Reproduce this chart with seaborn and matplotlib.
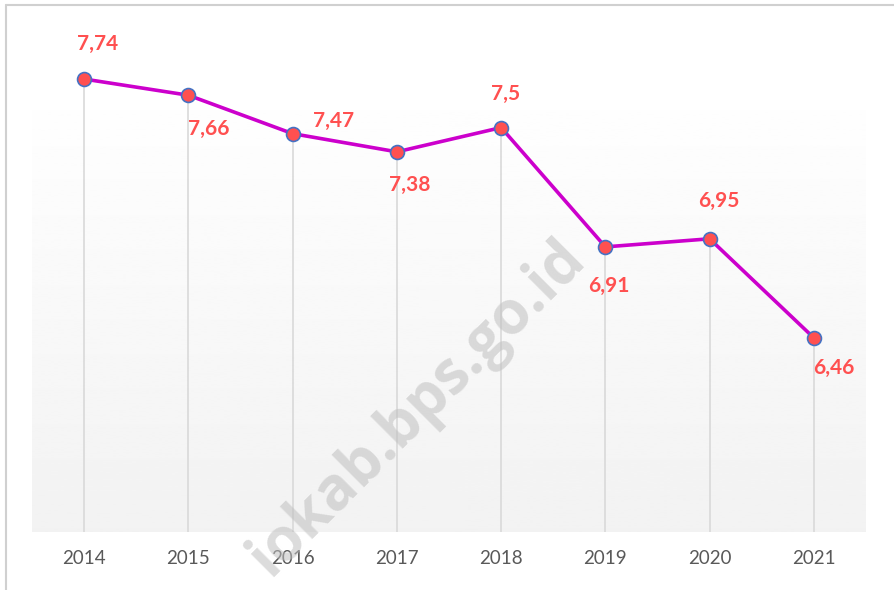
import numpy as np
import pandas as pd
import seaborn as sns
import matplotlib.pyplot as plt
from matplotlib.lines import Line2D

# -------------------------- Data --------------------------
years = ["2014", "2015", "2016", "2017", "2018", "2019", "2020", "2021"]
values = [7.74, 7.66, 7.47, 7.38, 7.50, 6.91, 6.95, 6.46]
labels = ["7,74", "7,66", "7,47", "7,38", "7,5", "6,91", "6,95", "6,46"]
# label offsets in pixels (dx, dy) relative to each point
label_offsets = [(13, 35), (20, -34), (41, 13), (13, -33),
                 (4, 34), (3, -39), (9, 38), (20, -30)]

df = pd.DataFrame({"pos": range(len(years)), "year": years, "value": values})

sns.set_theme(style="white")
plt.rcParams["font.family"] = ["Lato", "DejaVu Sans"]

fig = plt.figure(figsize=(8.95, 5.9), dpi=100)
ax = fig.add_axes([32 / 895, 58 / 590, 834 / 895, 457 / 590])

Y0, Y1 = 5.5, 7.76
ax.set_xlim(-0.5, len(years) - 0.5)
ax.set_ylim(Y0, Y1)

# background gradient white -> light gray
grad = np.linspace(1.0, 0.949, 256).reshape(-1, 1)
ax.imshow(grad, cmap="gray", vmin=0, vmax=1, aspect="auto",
          extent=(-0.5, len(years) - 0.5, Y0, Y1), zorder=0, origin="upper")

# drop lines from each point down to the axis
ax.vlines(df["pos"], Y0, df["value"], color="#d9d9d9", linewidth=1.2, zorder=1)

sns.lineplot(data=df, x="pos", y="value", ax=ax, color="#cc00cc",
             linewidth=2.6, marker="o", markersize=10,
             markerfacecolor="#ff5050", markeredgecolor="#4472c4",
             markeredgewidth=1.2, zorder=3, clip_on=False)

for x, v, lab, (dx, dy) in zip(df["pos"], values, labels, label_offsets):
    ax.annotate(lab, (x, v), xytext=(dx, dy), textcoords="offset pixels",
                ha="center", va="center", color="#ff5050",
                fontsize=15, fontweight="bold", zorder=4)

ax.set_xticks(df["pos"])
ax.set_xticklabels(years, fontsize=13.5, color="#595959")
ax.set_yticks([])
ax.set_xlabel("")
ax.set_ylabel("")
ax.tick_params(axis="x", length=0, pad=13)
for s in ax.spines.values():
    s.set_visible(False)

# watermark
fig.text(418 / 895, 1 - 408 / 590, "iokab.bps.go.id", rotation=45,
         ha="center", va="center", fontsize=43, fontweight="bold",
         color="#bfbfbf", alpha=0.55, family=["Open Sans", "DejaVu Sans"],
         zorder=10)

# outer frame (top and left edges visible)
fig.add_artist(Line2D([6 / 895, 1], [1 - 5 / 590, 1 - 5 / 590],
                      transform=fig.transFigure, color="#d0d0d0", linewidth=1.5))
fig.add_artist(Line2D([6 / 895, 6 / 895], [0, 1 - 5 / 590],
                      transform=fig.transFigure, color="#d0d0d0", linewidth=1.5))

fig.savefig("out.png", dpi=100)
